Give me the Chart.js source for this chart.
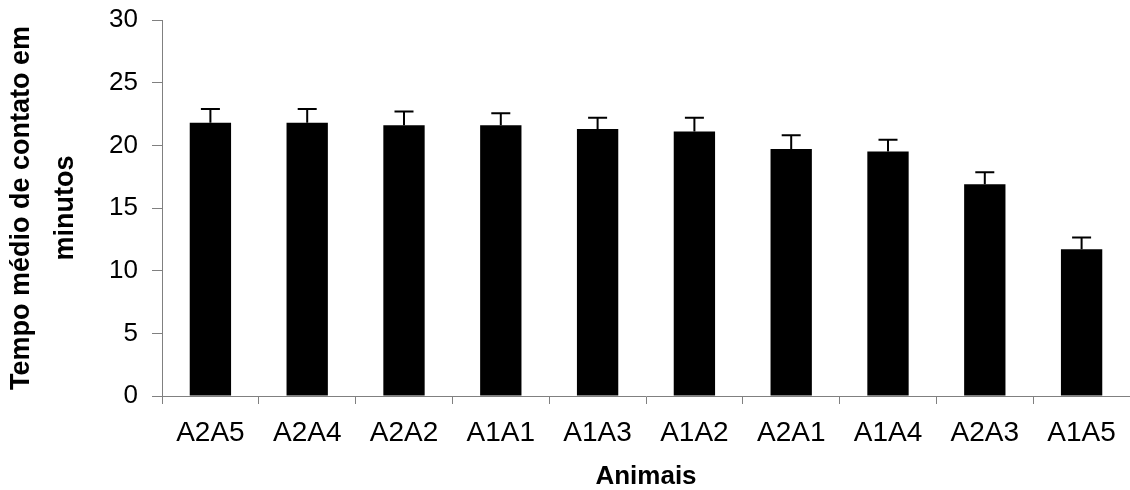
<!DOCTYPE html>
<html>
<head>
<meta charset="utf-8">
<script src="https://cdn.jsdelivr.net/npm/chart.js@4/dist/chart.umd.min.js"></script>
<style>
  html, body { margin: 0; padding: 0; background: #fff; }
  #wrap { width: 1130px; height: 490px; position: relative; }
</style>
</head>
<body>
<div id="wrap"><canvas id="chart"></canvas></div>
<script>
// Data
const animais = ['A2A5', 'A2A4', 'A2A2', 'A1A1', 'A1A3', 'A1A2', 'A2A1', 'A1A4', 'A2A3', 'A1A5'];
const tempoMedio = [21.8, 21.8, 21.6, 21.6, 21.3, 21.1, 19.7, 19.5, 16.9, 11.7];
const erroPadrao = [1.1, 1.1, 1.1, 0.95, 0.9, 1.1, 1.1, 0.95, 0.95, 0.95];

const fontFamily = "'Liberation Sans', Arial, sans-serif";
const axisGray = '#808080';

// draws the upper error bars on top of each bar
const errorBars = {
    id: 'errorBars',
    afterDatasetsDraw(chart) {
        const ctx = chart.ctx;
        const yScale = chart.scales.y;
        const meta = chart.getDatasetMeta(0);
        ctx.save();
        ctx.strokeStyle = '#000';
        ctx.lineWidth = 2;
        meta.data.forEach((bar, i) => {
            const yTop = yScale.getPixelForValue(tempoMedio[i] + erroPadrao[i]);
            ctx.beginPath();
            ctx.moveTo(bar.x, bar.y);
            ctx.lineTo(bar.x, yTop);
            ctx.moveTo(bar.x - 9.5, yTop);
            ctx.lineTo(bar.x + 9.5, yTop);
            ctx.stroke();
        });
        ctx.restore();
    }
};

const ctx = document.getElementById('chart').getContext('2d');
new Chart(ctx, {
    type: 'bar',
    data: {
        labels: animais,
        datasets: [{
            data: tempoMedio,
            backgroundColor: '#000',
            borderWidth: 0,
            barPercentage: 0.427,
            categoryPercentage: 1
        }]
    },
    options: {
        responsive: true,
        maintainAspectRatio: false,
        animation: false,
        layout: { padding: { top: 20, right: 0, bottom: 0, left: 0 } },
        plugins: {
            legend: { display: false },
            tooltip: { enabled: false }
        },
        scales: {
            x: {
                grid: {
                    offset: true,
                    drawOnChartArea: false,
                    drawTicks: true,
                    tickLength: 8,
                    tickColor: axisGray
                },
                border: { display: true, color: axisGray, width: 1 },
                ticks: {
                    color: '#000',
                    padding: 12,
                    maxRotation: 0,
                    font: { family: fontFamily, size: 28, lineHeight: 1.2 }
                },
                title: {
                    display: true,
                    text: 'Animais',
                    color: '#000',
                    padding: { top: 0, bottom: 0 },
                    font: { family: fontFamily, size: 26, weight: 'bold', lineHeight: 1 }
                },
                afterFit: scale => {
                    scale.height = 94;
                    scale.paddingLeft = 0;
                    scale.paddingRight = 0;
                }
            },
            y: {
                min: 0,
                max: 30,
                grid: {
                    drawOnChartArea: false,
                    drawTicks: true,
                    tickLength: 10,
                    tickColor: axisGray
                },
                border: { display: true, color: axisGray, width: 1 },
                ticks: {
                    stepSize: 5,
                    color: '#000',
                    padding: 14,
                    font: { family: fontFamily, size: 26 }
                },
                title: {
                    display: true,
                    text: ['Tempo médio de contato em', 'minutos'],
                    color: '#000',
                    padding: { top: 0, bottom: 0 },
                    font: { family: fontFamily, size: 27, weight: 'bold', lineHeight: 1.61 }
                },
                afterFit: scale => {
                    scale.width = 162;
                    // keep the plot top at 20px, the labels fit in the layout padding
                    scale.paddingTop = 0;
                    scale.paddingBottom = 0;
                }
            }
        }
    },
    plugins: [errorBars]
});
</script>
</body>
</html>
